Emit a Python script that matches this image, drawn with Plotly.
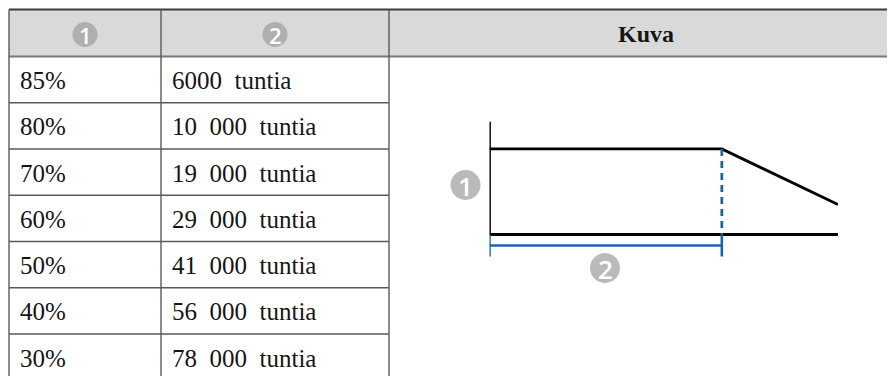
import plotly.graph_objects as go

# ---- data ----
brightness_labels = ["85%", "80%", "70%", "60%", "50%", "40%", "30%"]
hours = [6000, 10000, 19000, 29000, 41000, 56000, 78000]
hours_unit = "tuntia"
header_marks = ["1", "2"]
header_title = "Kuva"
# schematic diagram: relative brightness vs. time
diagram_time = [0, 1.0, 1.5]
diagram_brightness = [1.0, 1.0, 0.35]
diagram_knee_time = 1.0

# the page body has an 8px margin; work in window pixels
W, H = 895, 376
OFF = 8
SERIF = "Liberation Serif, Times New Roman, serif"
SANS = "Open Sans, Liberation Sans, sans-serif"
BORDER = "#5a5a5a"
HEADER_FILL = "#d9d9d9"
CIRCLE = "#9c9c9c"
BLUE = "#1b64a9"
TXT = "#151515"
FS = 25

def fmt_hours(h):
    s = str(h)
    if h >= 10000:
        s = s[:-3] + "\u00a0\u00a0" + s[-3:]
    return s + "\u00a0\u00a0" + hours_unit

col_x = [9, 161, 389, 900]
top = 9.5
head_bot = 56.5
row_h = 46.25

fig = go.Figure()
shapes = []
annotations = []

shapes.append(dict(type="rect", xref="x", yref="y", x0=col_x[0], x1=col_x[3], y0=top, y1=head_bot,
                   fillcolor=HEADER_FILL, line=dict(width=0), layer="below"))
shapes.append(dict(type="line", xref="x", yref="y", x0=col_x[0], x1=col_x[3], y0=top, y1=top,
                   line=dict(color="#3c3c3c", width=2)))
shapes.append(dict(type="line", xref="x", yref="y", x0=col_x[0], x1=col_x[3], y0=head_bot, y1=head_bot,
                   line=dict(color="#7a7a7a", width=2)))
for cx in col_x[:3]:
    shapes.append(dict(type="line", xref="x", yref="y", x0=cx, x1=cx, y0=top, y1=H + 4,
                       line=dict(color=BORDER, width=1.4)))
for k in range(1, len(brightness_labels)):
    yy = head_bot + row_h * k
    shapes.append(dict(type="line", xref="x", yref="y", x0=col_x[0], x1=col_x[2], y0=yy, y1=yy,
                       line=dict(color=BORDER, width=1.4)))

for i, (lab, h) in enumerate(zip(brightness_labels, hours)):
    yc = head_bot + row_h * (i + 0.5) + 1
    annotations.append(dict(x=col_x[0] + 9, y=yc, xref="x", yref="y", text=lab, showarrow=False,
                            xanchor="left", yanchor="middle", font=dict(family=SERIF, size=FS, color=TXT)))
    annotations.append(dict(x=col_x[1] + 9, y=yc, xref="x", yref="y", text=fmt_hours(h), showarrow=False,
                            xanchor="left", yanchor="middle", font=dict(family=SERIF, size=FS, color=TXT)))

annotations.append(dict(x=646, y=(top + head_bot) / 2 + 1, xref="x", yref="y", text="<b>" + header_title + "</b>",
                        showarrow=False, xanchor="center", yanchor="middle",
                        font=dict(family=SERIF, size=24, color=TXT)))

circ_x = [(col_x[0] + col_x[1]) / 2, (col_x[1] + col_x[2]) / 2, 465.5, 605]
circ_y = [(top + head_bot) / 2 + 1.5, (top + head_bot) / 2 + 1.5, 185, 268]
circ_s = [25, 25, 30, 30]
circ_t = [header_marks[0], header_marks[1], header_marks[0], header_marks[1]]
fig.add_trace(go.Scatter(x=circ_x, y=circ_y, mode="markers", xaxis="x", yaxis="y",
                         marker=dict(size=circ_s, color=CIRCLE, line=dict(width=0)),
                         cliponaxis=False, hoverinfo="skip", showlegend=False))
for x, y, s, t in zip(circ_x, circ_y, circ_s, circ_t):
    annotations.append(dict(x=x, y=y + 0.5, xref="x", yref="y", text=t, showarrow=False,
                            xanchor="center", yanchor="middle",
                            font=dict(family=SANS, size=round(s * 0.88), color="white", weight=600)))

# ---- diagram (x2/y2) ----
PW, PH = W - OFF, H - OFF
x2_dom = [(489.5 - OFF) / PW, (838 - OFF) / PW]
y_top_px, y_zero_px = 121.5, 234.5
y_max = 1.32
scale = (y_zero_px - y_top_px) / y_max
y_min = -0.35
y_bot_px = y_zero_px - y_min * scale
y2_dom = [(H - y_bot_px) / PH, (H - y_top_px) / PH]

below = -(256.5 - y_zero_px) / scale
bracket_y = -(245.5 - y_zero_px) / scale

shapes.append(dict(type="line", xref="x2", yref="y2", x0=0, x1=0, y0=0, y1=y_max,
                   line=dict(color="black", width=2.8)))
shapes.append(dict(type="line", xref="x2", yref="y2", x0=0, x1=diagram_time[-1], y0=0, y1=0,
                   line=dict(color="black", width=2.8)))
shapes.append(dict(type="line", xref="x2", yref="y2", x0=diagram_knee_time, x1=diagram_knee_time,
                   y0=diagram_brightness[1], y1=0, line=dict(color=BLUE, width=2.8, dash="7px,5px")))
shapes.append(dict(type="line", xref="x2", yref="y2", x0=diagram_knee_time, x1=diagram_knee_time,
                   y0=0, y1=below, line=dict(color=BLUE, width=2.6)))
shapes.append(dict(type="line", xref="x2", yref="y2", x0=0, x1=0, y0=0, y1=below,
                   line=dict(color=BLUE, width=2.6)))
shapes.append(dict(type="line", xref="x2", yref="y2", x0=0, x1=diagram_knee_time, y0=bracket_y, y1=bracket_y,
                   line=dict(color=BLUE, width=2.6)))

fig.add_trace(go.Scatter(x=diagram_time, y=diagram_brightness, mode="lines", xaxis="x2", yaxis="y2",
                         line=dict(color="black", width=2.8), cliponaxis=False,
                         hoverinfo="skip", showlegend=False))

fig.update_layout(
    width=PW, height=PH, margin=dict(l=0, r=0, t=0, b=0),
    paper_bgcolor="white", plot_bgcolor="rgba(0,0,0,0)",
    xaxis=dict(range=[OFF, W], visible=False, domain=[0, 1], fixedrange=True),
    yaxis=dict(range=[H, OFF], visible=False, domain=[0, 1], fixedrange=True),
    xaxis2=dict(range=[0, diagram_time[-1]], domain=x2_dom, visible=False, anchor="y2"),
    yaxis2=dict(range=[y_min, y_max], domain=y2_dom, visible=False, anchor="x2"),
    shapes=shapes, annotations=annotations,
)

fig.write_html("out.html")
